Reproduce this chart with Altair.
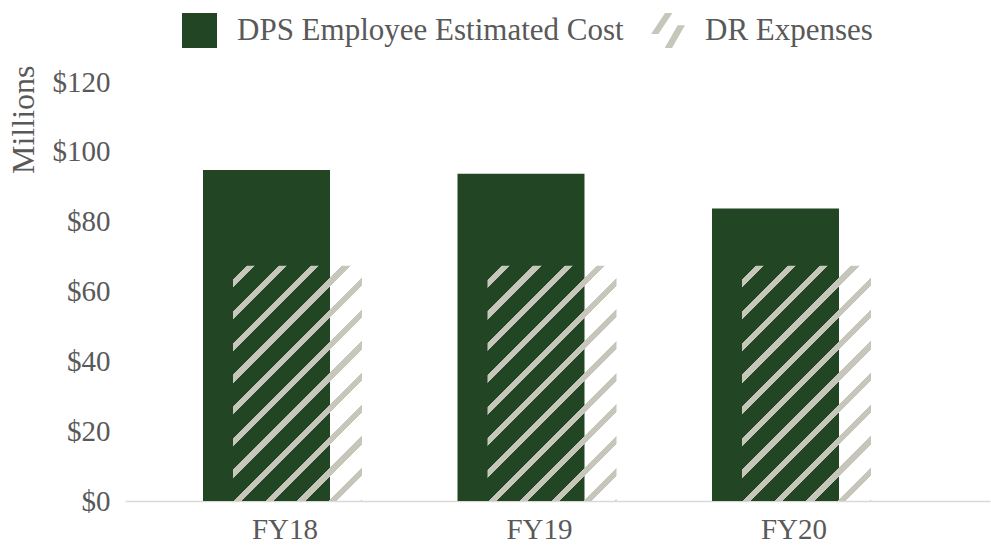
import math
import altair as alt
import pandas as pd

# Chart values (millions of dollars)
years = ["FY18", "FY19", "FY20"]
dps_cost = [94.8, 93.7, 83.8]
dr_expenses = [67.4, 67.4, 67.4]
series_names = ["DPS Employee Estimated Cost", "DR Expenses"]
y_ticks = [0, 20, 40, 60, 80, 100, 120]

GREEN = "#224524"
HATCH = "#c6c6bb"
TEXT = "#595959"
FONT = "Liberation Serif"
FS = 29
LEGEND_FS = 31
TITLE_FS = 32

PLOT_W, PLOT_H = 865, 419
Y_MAX = 120
BAR_W_DPS, BAR_W_DR = 127, 129

dps_df = pd.DataFrame({"year": years, "value": dps_cost, "series": series_names[0]})
dr_df = pd.DataFrame({"year": years, "value": dr_expenses, "series": series_names[1]})
all_df = pd.concat([dps_df, dr_df], ignore_index=True)

# Diagonal hatch fill for the DR bars, built as a hard-stop linear gradient.
# The gradient vector is chosen so that stripes run at 45 degrees on screen.
hw = BAR_W_DR
hh = max(dr_expenses) * PLOT_H / Y_MAX
k = (hw + hh) / (hw * hw + hh * hh)
span = (hw + hh) / math.sqrt(2)
period, stripe, phase = 22.4, 5.8, 10.0
clear = "rgba(198,198,187,0)"
stops = [{"offset": 0, "color": clear}]
t = phase
while t < span:
    a = t / span
    b = min((t + stripe) / span, 1.0)
    stops += [
        {"offset": round(a, 5), "color": clear},
        {"offset": round(a, 5), "color": HATCH},
        {"offset": round(b, 5), "color": HATCH},
        {"offset": round(b, 5), "color": clear},
    ]
    t += period
stops.append({"offset": 1, "color": clear})
hatch_fill = alt.LinearGradient(
    gradient="linear", x1=0, y1=0, x2=hw * k, y2=hh * k, stops=stops
)

x_scale = alt.Scale(paddingInner=0, paddingOuter=0.1994, align=0.293)
y_scale = alt.Scale(domain=[0, Y_MAX], nice=False, zero=True)

x_enc = alt.X(
    "year:N",
    sort=years,
    scale=x_scale,
    axis=alt.Axis(
        title=None,
        labelAngle=0,
        ticks=False,
        grid=False,
        domainColor="#d9d9d9",
        domainWidth=1.5,
        labelFont=FONT,
        labelFontSize=FS,
        labelColor=TEXT,
        labelPadding=14,
        labelOffset=3,
    ),
)
y_enc = alt.Y(
    "value:Q",
    scale=y_scale,
    axis=alt.Axis(
        title="Millions",
        values=y_ticks,
        labelExpr="'$' + datum.value",
        domain=False,
        ticks=False,
        grid=False,
        labelFont=FONT,
        labelFontSize=FS,
        labelColor=TEXT,
        labelPadding=15,
        titleFont=FONT,
        titleFontSize=TITLE_FS,
        titleFontWeight="normal",
        titleColor=TEXT,
        titleAngle=270,
        titleAlign="right",
        titleBaseline="middle",
        titleX=-102,
        titleY=-17,
    ),
)

dps_bars = alt.Chart(dps_df).mark_bar(
    color=GREEN, width=BAR_W_DPS, xOffset=-15.5
).encode(x=x_enc, y=y_enc)

dr_bars = alt.Chart(dr_df).mark_bar(
    fill=hatch_fill, width=BAR_W_DR, xOffset=15.5
).encode(x=x_enc, y=y_enc)

square_path = "M-1,-1H1V1H-1Z"
stripes_path = (
    "M-0.14,-1L0.28,-1L-0.52,0.2L-0.94,0.2Z"
    "M0.58,-0.3L1,-0.3L0.26,1L-0.16,1Z"
)

legend_style = dict(
    title=None,
    orient="none",
    direction="horizontal",
    legendX=57,
    legendY=-69,
    symbolSize=1225,
    symbolOpacity=1,
    symbolStrokeWidth=0,
    labelFont=FONT,
    labelFontSize=LEGEND_FS,
    labelColor=TEXT,
    labelOffset=20,
    columnPadding=26,
    labelLimit=500,
)

# Invisible points that carry the legend
legend_layer = alt.Chart(all_df).mark_point(filled=True, opacity=0).encode(
    x=x_enc,
    y=y_enc,
    color=alt.Color(
        "series:N",
        scale=alt.Scale(domain=series_names, range=[GREEN, HATCH]),
        legend=alt.Legend(**legend_style),
    ),
    shape=alt.Shape(
        "series:N",
        scale=alt.Scale(domain=series_names, range=[square_path, stripes_path]),
        legend=alt.Legend(**legend_style),
    ),
)

chart = (
    alt.layer(dps_bars, dr_bars, legend_layer)
    .properties(
        width=PLOT_W,
        height=PLOT_H,
        autosize=alt.AutoSizeParams(type="none"),
        padding={"left": 125, "top": 82, "right": 1, "bottom": 45},
        background="white",
    )
    .configure_view(stroke=None)
)

chart.save("out.html", embed_options={"renderer": "svg", "actions": False})
